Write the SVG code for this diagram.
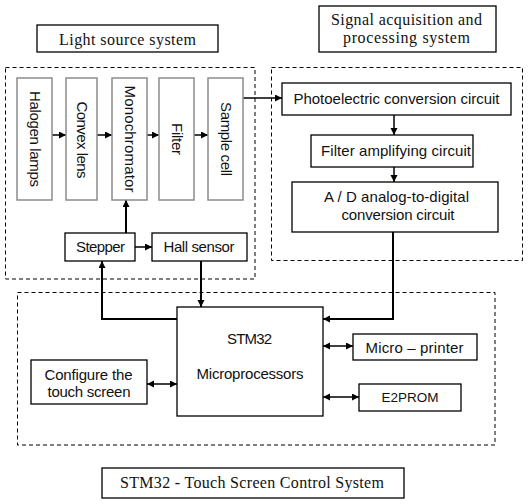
<svg xmlns="http://www.w3.org/2000/svg" width="532" height="504" viewBox="0 0 532 504">
<defs>
<style>
.bg{fill:#fff}
.box{fill:#fff;stroke:#000;stroke-width:1.3}
.vbox{fill:#fff;stroke:#8c8c8c;stroke-width:1.5}
.dash{fill:none;stroke:#000;stroke-width:1;stroke-dasharray:4 3}
.t{font-family:"Liberation Sans",Arial,sans-serif;font-size:15px;fill:#111;text-anchor:middle}
.s{font-family:"Liberation Serif","Times New Roman",serif;font-size:16px;fill:#111;text-anchor:middle}
.c{fill:none;stroke:#000;stroke-width:2}
.c1{fill:none;stroke:#000;stroke-width:1.5}
</style>
<marker id="ah" markerUnits="userSpaceOnUse" markerWidth="8" markerHeight="8" refX="7" refY="3.5" orient="auto-start-reverse">
<path d="M0,0 L7,3.5 L0,7 z" fill="#000"/>
</marker>
</defs>
<rect class="bg" x="0" y="0" width="532" height="504"/>

<!-- group frames and titles -->
<g id="light-source-system">
<rect class="box" x="37" y="25" width="181" height="27"/>
<text class="s" x="127.5" y="45" textLength="137">Light source system</text>
<rect class="dash" x="5.5" y="67.5" width="249.5" height="211.5"/>
</g>
<g id="signal-system">
<rect class="box" x="319" y="6" width="177" height="46"/>
<text class="s" x="406.5" y="25" textLength="151">Signal acquisition and</text>
<text class="s" x="406.5" y="43" textLength="127">processing system</text>
<rect class="dash" x="271.5" y="67.5" width="251" height="193"/>
</g>
<g id="control-system">
<rect class="dash" x="17.5" y="292.5" width="477.5" height="152.5"/>
<rect class="box" x="102" y="468" width="302" height="30"/>
<text class="s" x="252" y="488" textLength="264">STM32 - Touch Screen Control System</text>
</g>

<!-- connectors -->
<g id="connectors">
<line class="c1" x1="52" y1="135" x2="66" y2="135" marker-end="url(#ah)"/>
<line class="c1" x1="97" y1="135" x2="112" y2="135" marker-end="url(#ah)"/>
<line class="c1" x1="147" y1="135" x2="159" y2="135" marker-end="url(#ah)"/>
<line class="c1" x1="194" y1="135" x2="208" y2="135" marker-end="url(#ah)"/>
<line class="c1" x1="243" y1="98" x2="282" y2="98" marker-end="url(#ah)"/>
<line class="c" x1="126" y1="233" x2="126" y2="200" marker-end="url(#ah)"/>
<line class="c1" x1="135" y1="247" x2="152" y2="247" marker-end="url(#ah)"/>
<path class="c" d="M177,319 H102 V261" marker-end="url(#ah)"/>
<path class="c" d="M201,261 V307" marker-end="url(#ah)"/>
<line class="c1" x1="394" y1="115" x2="394" y2="135" marker-end="url(#ah)"/>
<line class="c1" x1="394" y1="167" x2="394" y2="182" marker-end="url(#ah)"/>
<path class="c" d="M393,232 V319 H323" marker-end="url(#ah)"/>
<line class="c1" x1="147" y1="384" x2="177" y2="384" marker-start="url(#ah)" marker-end="url(#ah)"/>
<line class="c1" x1="323" y1="346" x2="353" y2="346" marker-start="url(#ah)" marker-end="url(#ah)"/>
<line class="c1" x1="323" y1="397" x2="359" y2="397" marker-start="url(#ah)" marker-end="url(#ah)"/>
</g>

<!-- light source nodes -->
<g id="halogen">
<rect class="vbox" x="17" y="78" width="35" height="122"/>
<text class="t" transform="translate(34.5,139) rotate(90)" x="0" y="5" textLength="96">Halogen lamps</text>
</g>
<g id="convex">
<rect class="vbox" x="66" y="78" width="31" height="122"/>
<text class="t" transform="translate(81.5,140) rotate(90)" x="0" y="5" textLength="77">Convex lens</text>
</g>
<g id="monochromator">
<rect class="vbox" x="112" y="78" width="35" height="122"/>
<text class="t" transform="translate(129.5,139) rotate(90)" x="0" y="5" textLength="107">Monochromator</text>
</g>
<g id="filter">
<rect class="vbox" x="159" y="78" width="35" height="122"/>
<text class="t" transform="translate(176.5,139) rotate(90)" x="0" y="5" textLength="32">Filter</text>
</g>
<g id="sample-cell">
<rect class="vbox" x="208" y="78" width="35" height="122"/>
<text class="t" transform="translate(225.5,139) rotate(90)" x="0" y="5" textLength="74">Sample cell</text>
</g>
<g id="stepper">
<rect class="box" x="65" y="233" width="70" height="28"/>
<text class="t" x="100.5" y="252" textLength="49">Stepper</text>
</g>
<g id="hall">
<rect class="box" x="152" y="233" width="95" height="28"/>
<text class="t" x="199" y="252" textLength="71">Hall sensor</text>
</g>

<!-- signal nodes -->
<g id="photoelectric">
<rect class="box" x="282" y="83" width="229" height="32"/>
<text class="t" x="396.5" y="104" textLength="206">Photoelectric conversion circuit</text>
</g>
<g id="filter-amp">
<rect class="box" x="311" y="135" width="162" height="32"/>
<text class="t" x="396" y="156" textLength="150">Filter amplifying circuit</text>
</g>
<g id="adc">
<rect class="box" x="292" y="182" width="206" height="50"/>
<text class="t" x="396.5" y="202" textLength="145">A / D analog-to-digital</text>
<text class="t" x="398" y="220" textLength="113">conversion circuit</text>
</g>

<!-- control nodes -->
<g id="stm32">
<rect class="box" x="177" y="307" width="146" height="109"/>
<text class="t" x="249.5" y="344" textLength="45">STM32</text>
<text class="t" x="250" y="379" textLength="107">Microprocessors</text>
</g>
<g id="touch-screen">
<rect class="box" x="31" y="360" width="116" height="44"/>
<text class="t" x="88.5" y="380" textLength="88">Configure the</text>
<text class="t" x="89" y="397" textLength="83">touch screen</text>
</g>
<g id="printer">
<rect class="box" x="353" y="334" width="124" height="26"/>
<text class="t" x="414.5" y="353" textLength="98">Micro – printer</text>
</g>
<g id="e2prom">
<rect class="box" x="359" y="384" width="102" height="27"/>
<text class="t" x="410" y="402" style="font-size:13.5px">E2PROM</text>
</g>
</svg>
